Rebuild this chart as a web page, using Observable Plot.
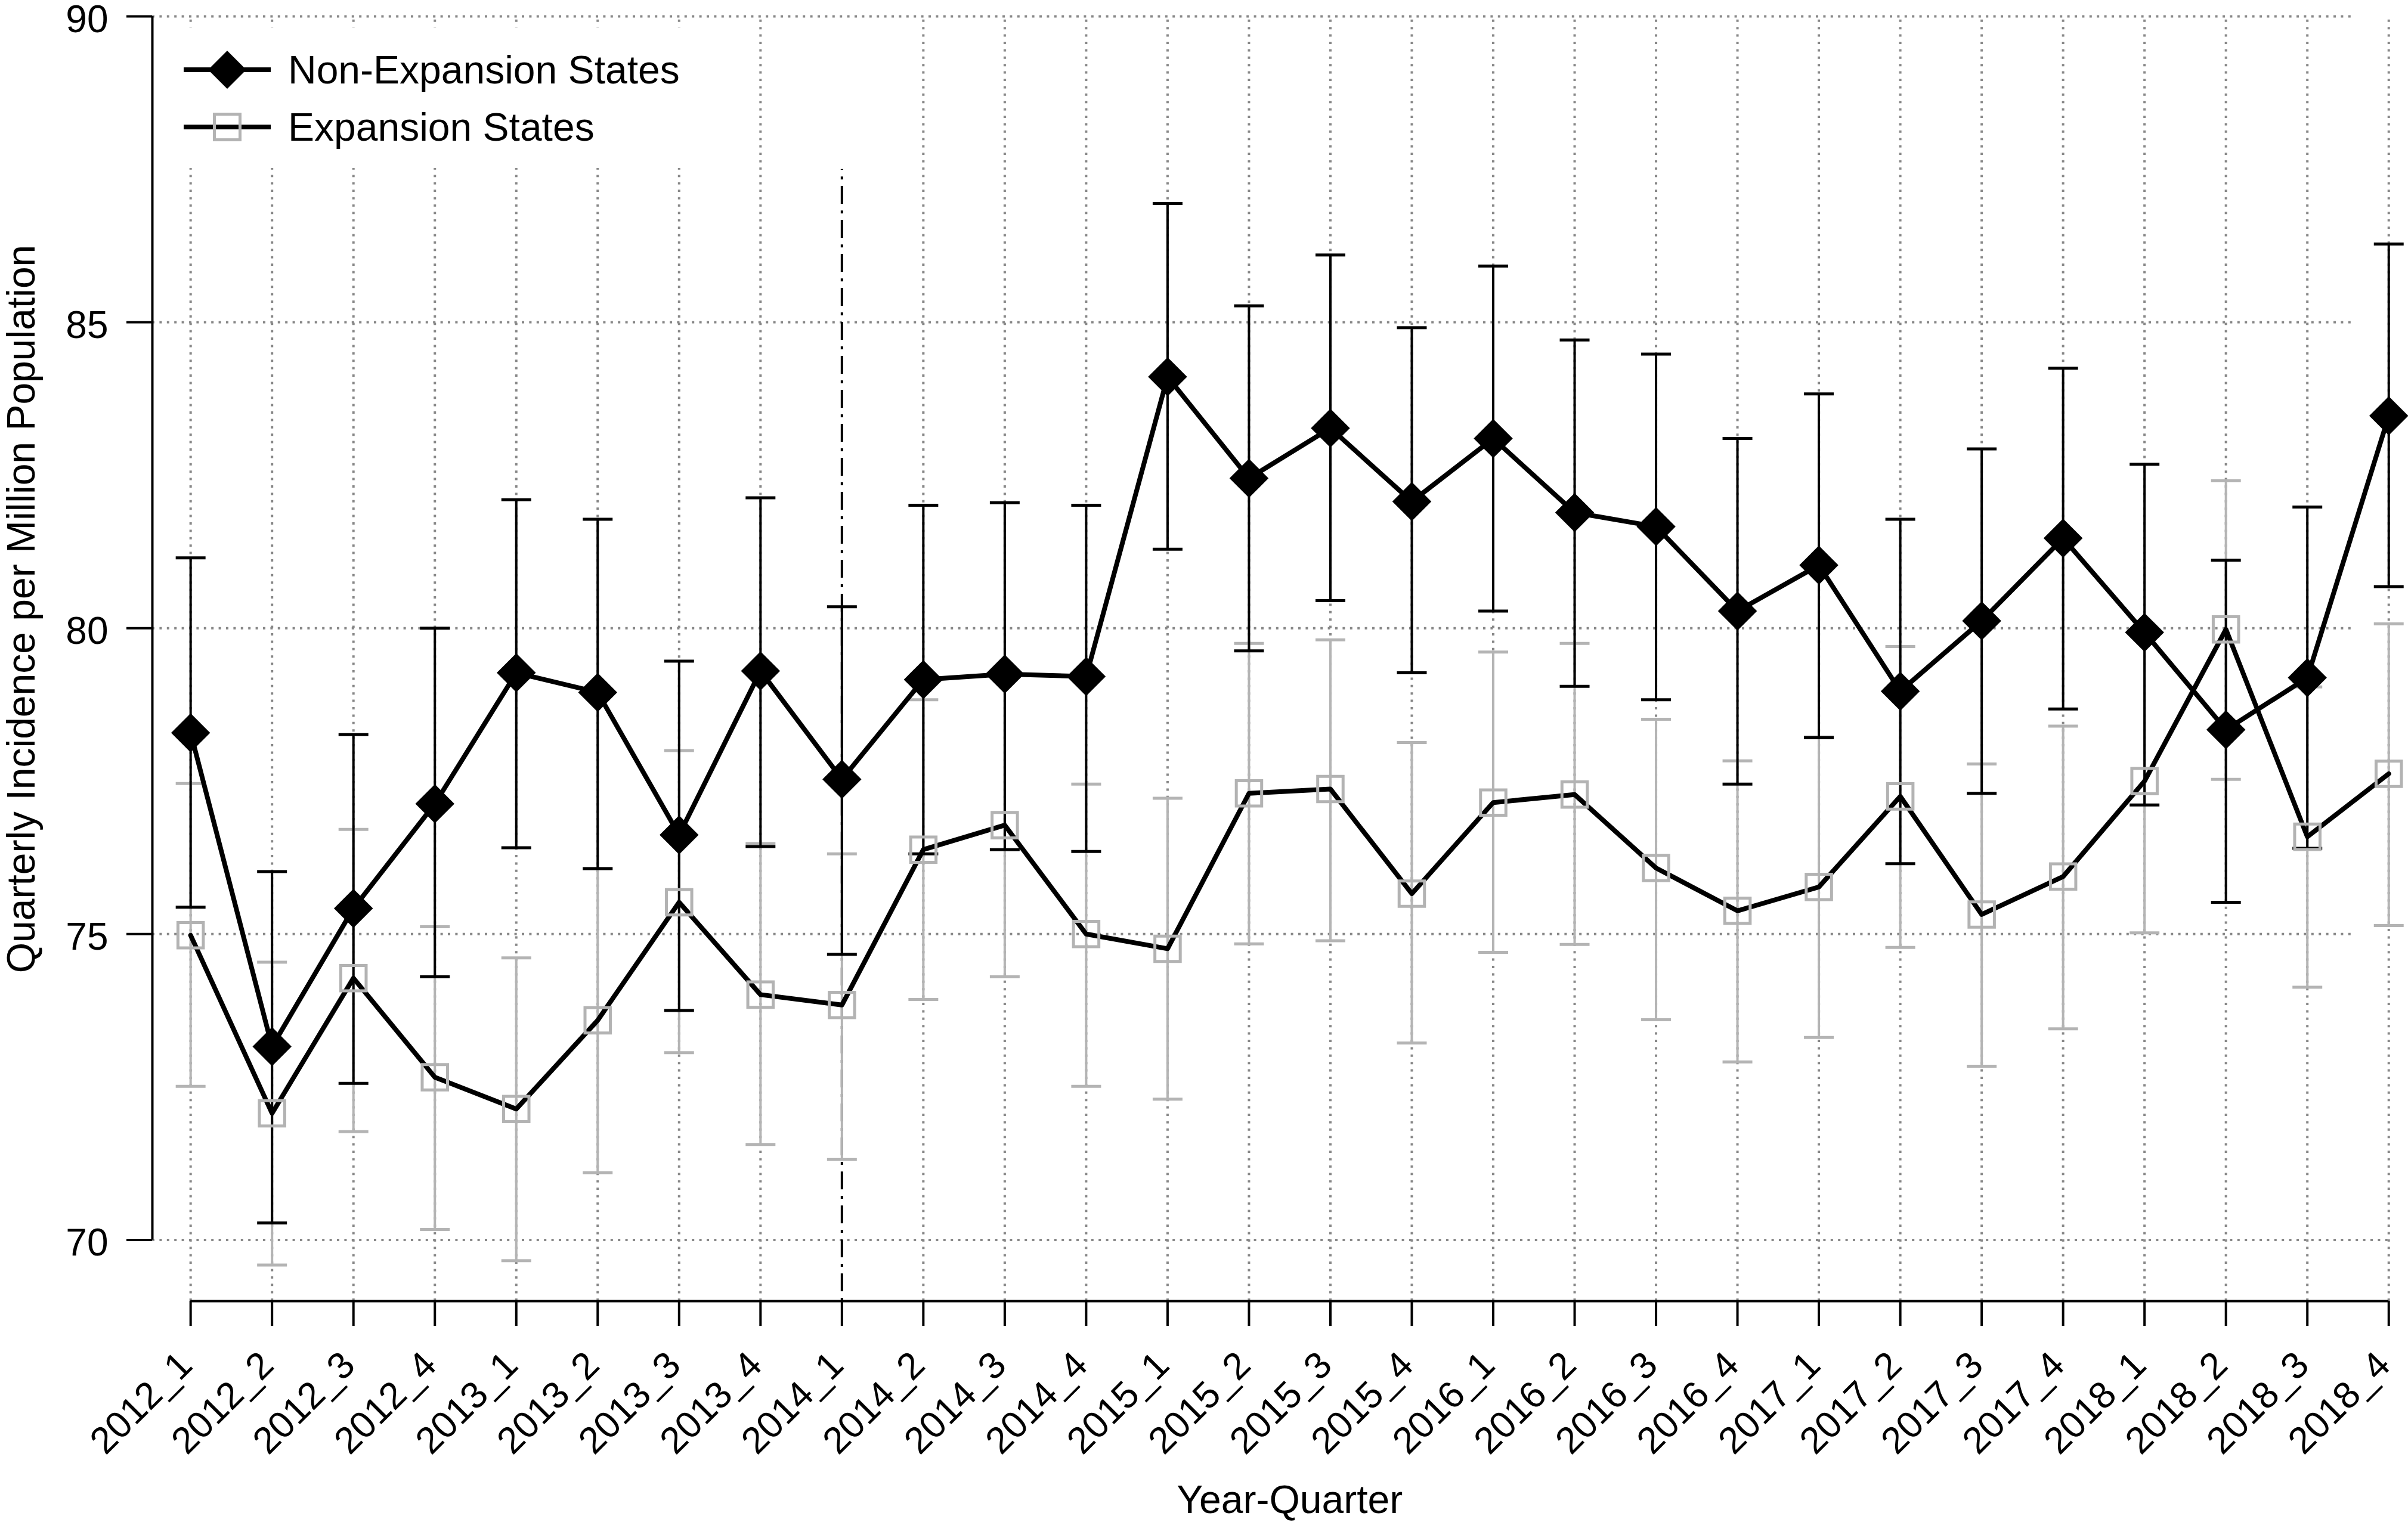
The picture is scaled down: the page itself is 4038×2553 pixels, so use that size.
<!DOCTYPE html>
<html>
<head>
<meta charset="utf-8">
<script src="https://cdn.jsdelivr.net/npm/d3@7"></script>
<script src="https://cdn.jsdelivr.net/npm/@observablehq/plot@0.6"></script>
<style>
  html, body { margin: 0; padding: 0; background: #fff; }
  svg { display: block; }
</style>
</head>
<body>
<div id="chart"></div>
<script>
// ---------- data ----------
const quarters = ["2012_1","2012_2","2012_3","2012_4","2013_1","2013_2","2013_3","2013_4",
  "2014_1","2014_2","2014_3","2014_4","2015_1","2015_2","2015_3","2015_4",
  "2016_1","2016_2","2016_3","2016_4","2017_1","2017_2","2017_3","2017_4",
  "2018_1","2018_2","2018_3","2018_4"];

const nonExpMean = [78.29,73.16,75.42,77.13,79.27,78.95,76.62,79.30,77.53,79.16,79.25,79.21,
  84.11,82.45,83.27,82.07,83.10,81.89,81.66,80.28,81.03,78.97,80.12,81.47,79.93,78.34,79.19,83.47];
const nonExpLow  = [75.44,70.28,72.56,74.30,76.41,76.07,73.75,76.43,74.67,76.31,76.38,76.35,
  81.29,79.63,80.45,79.27,80.28,79.05,78.83,77.45,78.21,76.15,77.30,78.68,77.11,75.52,76.40,80.68];
const nonExpHigh = [81.15,76.02,78.26,80.00,82.10,81.78,79.46,82.13,80.35,82.01,82.05,82.01,
  86.94,85.27,86.10,84.91,85.92,84.71,84.48,83.10,83.83,81.78,82.93,84.25,82.68,81.11,81.98,86.28];

const expMean = [74.98,72.07,74.28,72.66,72.14,73.59,75.52,74.01,73.84,76.38,76.78,75.00,
  74.76,77.30,77.37,75.66,77.15,77.28,76.08,75.38,75.77,77.25,75.32,75.94,77.50,79.98,76.59,77.62];
const expLow  = [72.51,69.59,71.77,70.17,69.66,71.10,73.06,71.56,71.32,73.93,74.30,72.51,
  72.30,74.84,74.89,73.22,74.70,74.83,73.60,72.91,73.31,74.78,72.84,73.45,75.02,77.53,74.13,75.14];
const expHigh = [77.46,74.54,76.71,75.12,74.61,76.07,78.00,76.48,76.31,78.83,79.23,77.45,
  77.22,79.75,79.81,78.13,79.61,79.75,78.51,77.83,78.22,79.70,77.78,78.40,79.95,82.41,79.04,80.07];

const seriesNames = ["Non-Expansion States", "Expansion States"];
const yTicks = [70, 75, 80, 85, 90];
const policyQuarter = "2014_1";
const policyLineTop = 87.5;
const xTitle = "Year-Quarter";
const yTitle = "Quarterly Incidence per Million Population";

// ---------- tables ----------
const idx = quarters.map((q, i) => i);
const nonExp = quarters.map((q, i) => ({i, q, mean: nonExpMean[i], lo: nonExpLow[i], hi: nonExpHigh[i]}));
const exp = quarters.map((q, i) => ({i, q, mean: expMean[i], lo: expLow[i], hi: expHigh[i]}));
const policyIdx = quarters.indexOf(policyQuarter);

// ---------- style ----------
const FONT = "'Liberation Sans', Arial, Helvetica, sans-serif";
const W = 4038, H = 2553;
const xDomain = [-0.47, 27.24];
const yDomain = [69, 90];
const gridColor = "#888888";
const gridDash = "4,8.4";
const grayBar = "#b4b4b4";

// horizontal cap symbol (stroke-only)
const capSymbol = {
  draw(ctx, size) {
    const w = Math.sqrt(size / Math.PI);
    ctx.moveTo(-w, 0);
    ctx.lineTo(w, 0);
  }
};

const chart = Plot.plot({
  width: W,
  height: H,
  marginLeft: 255,
  marginRight: 0,
  marginTop: 27,
  marginBottom: 371,
  style: {fontFamily: FONT, background: "#fff", color: "#000", overflow: "visible"},
  x: {type: "linear", domain: xDomain},
  y: {type: "linear", domain: yDomain},
  marks: [
    // grid
    Plot.ruleX(idx.filter(i => i !== policyIdx), {x: d => d, y1: yDomain[0], y2: yDomain[1],
      stroke: gridColor, strokeWidth: 4, strokeDasharray: gridDash}),
    Plot.ruleY(yTicks, {y: d => d, x1: xDomain[0], x2: d => d === yTicks[0] ? quarters.length - 1 : 26.54,
      stroke: gridColor, strokeWidth: 4, strokeDasharray: gridDash}),
    // policy line
    Plot.ruleX([policyIdx], {x: d => d, y1: yDomain[0], y2: policyLineTop,
      stroke: "#000", strokeWidth: 4, strokeDasharray: "5,11,30,11"}),
    // expansion error bars (gray)
    Plot.ruleX(exp, {x: "i", y1: "lo", y2: "hi", stroke: grayBar, strokeWidth: 4}),
    Plot.dot(exp, {x: "i", y: "lo", symbol: capSymbol, r: 25, stroke: grayBar, strokeWidth: 5, fill: "none"}),
    Plot.dot(exp, {x: "i", y: "hi", symbol: capSymbol, r: 25, stroke: grayBar, strokeWidth: 5, fill: "none"}),
    // non-expansion error bars (black)
    Plot.ruleX(nonExp, {x: "i", y1: "lo", y2: "hi", stroke: "#000", strokeWidth: 4}),
    Plot.dot(nonExp, {x: "i", y: "lo", symbol: capSymbol, r: 25, stroke: "#000", strokeWidth: 5, fill: "none"}),
    Plot.dot(nonExp, {x: "i", y: "hi", symbol: capSymbol, r: 25, stroke: "#000", strokeWidth: 5, fill: "none"}),
    // lines
    Plot.line(exp, {x: "i", y: "mean", stroke: "#000", strokeWidth: 8, strokeLinejoin: "round"}),
    Plot.line(nonExp, {x: "i", y: "mean", stroke: "#000", strokeWidth: 8, strokeLinejoin: "round"}),
    // markers
    Plot.dot(exp, {x: "i", y: "mean", symbol: "square", r: 24, stroke: "#b3b3b3", strokeWidth: 5, fill: "none"}),
    Plot.dot(nonExp, {x: "i", y: "mean", symbol: "diamond2", r: 29.5, fill: "#000", stroke: "none"}),
    // axes lines
    Plot.ruleX([xDomain[0]], {x: d => d, y1: yTicks[0], y2: yTicks[yTicks.length - 1], stroke: "#000", strokeWidth: 4}),
    Plot.ruleY([yDomain[0]], {y: d => d, x1: 0, x2: quarters.length - 1, stroke: "#000", strokeWidth: 4}),
    // ticks
    Plot.axisY({ticks: yTicks, tickSize: 43, strokeWidth: 4, fill: "none", label: null}),
    Plot.axisX({ticks: idx, tickSize: 42, strokeWidth: 4, fill: "none", label: null}),
    // tick labels
    Plot.text(yTicks, {y: d => d, text: d => String(d), frameAnchor: "left", dx: -74, dy: 6,
      textAnchor: "end", lineAnchor: "middle", fontSize: 64, fill: "#000"}),
    Plot.text(nonExp, {x: "i", text: "q", frameAnchor: "bottom", dx: 6, dy: 111, rotate: -45,
      textAnchor: "end", lineAnchor: "bottom", fontSize: 63, fill: "#000"}),
    // titles
    Plot.text([xTitle], {x: () => (quarters.length - 1) / 2, text: d => d, frameAnchor: "bottom", dy: 355,
      textAnchor: "middle", lineAnchor: "bottom", fontSize: 66, fill: "#000"}),
    Plot.text([yTitle], {text: d => d, frameAnchor: "top-left", dx: -198, dy: 994, rotate: -90,
      textAnchor: "middle", lineAnchor: "bottom", fontSize: 66, fill: "#000"})
  ]
});

// ---------- legend (drawn inside the SVG) ----------
const svg = d3.select(chart);
const lg = svg.append("g").attr("class", "legend").attr("text-anchor", "start");
lg.append("rect").attr("x", 258).attr("y", 46).attr("width", 940).attr("height", 236).attr("fill", "#fff");
seriesNames.forEach((name, k) => {
  const cy = 117 + 96 * k;
  lg.append("line").attr("x1", 308).attr("x2", 454).attr("y1", cy).attr("y2", cy)
    .attr("stroke", "#000").attr("stroke-width", 8);
  if (k === 0) {
    lg.append("path").attr("d", `M381,${cy - 32}L413,${cy}L381,${cy + 32}L349,${cy}Z`).attr("fill", "#000");
  } else {
    lg.append("rect").attr("x", 381 - 21.5).attr("y", cy - 21.5).attr("width", 43).attr("height", 43)
      .attr("fill", "none").attr("stroke", "#b3b3b3").attr("stroke-width", 5);
  }
  lg.append("text").attr("x", 483).attr("y", cy).attr("dy", "0.35em")
    .attr("text-anchor", "start")
    .attr("font-family", FONT).attr("font-size", 66).attr("fill", "#000").text(name);
});

document.getElementById("chart").appendChild(chart);
</script>
</body>
</html>
